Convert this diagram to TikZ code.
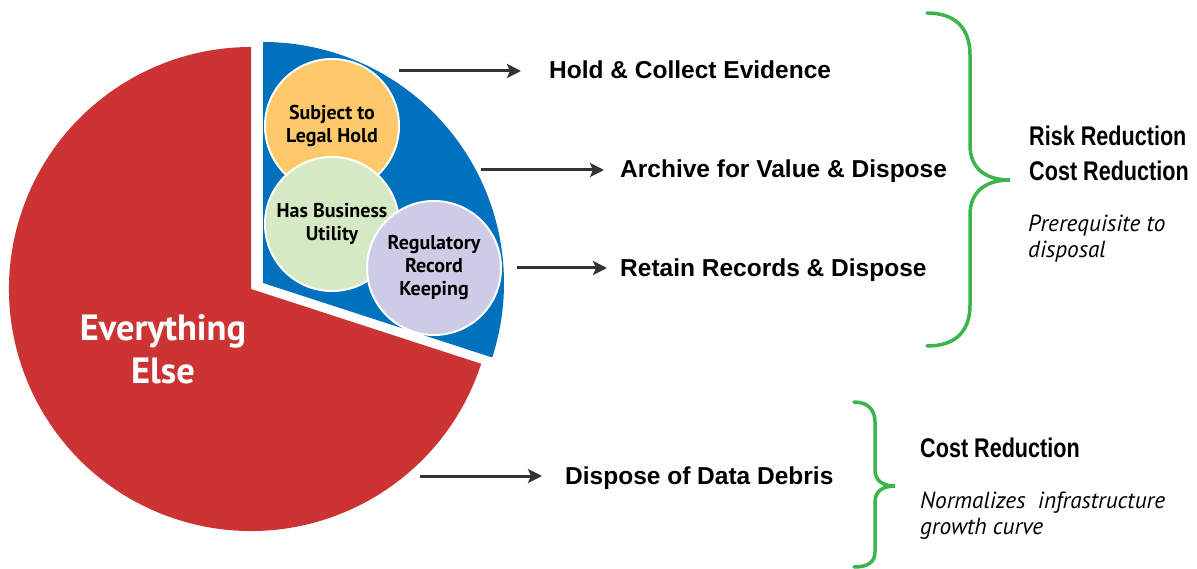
\documentclass[tikz,border=0pt]{standalone}
\usepackage{fontspec}
\setmainfont{Liberation Sans}
\newfontfamily\myriad{PT Sans}
\newfontfamily\condfont[FakeStretch=0.8]{Liberation Sans}
\usetikzlibrary{arrows.meta}
\definecolor{pred}{HTML}{CC3434}
\definecolor{pblue}{HTML}{0071BC}
\definecolor{porange}{HTML}{FDC96B}
\definecolor{pgreen}{HTML}{D5E9C5}
\definecolor{ppurple}{HTML}{CDCBE5}
\definecolor{bracegreen}{HTML}{3AB54A}
\definecolor{arrowgray}{HTML}{333333}
\tikzset{
  bubble/.style={circle, draw=white, line width=2pt, minimum size=134pt, inner sep=0pt,
    align=center, font=\myriad\bfseries\fontsize{20}{23}\selectfont},
  arr/.style={draw=arrowgray, line width=3pt, -{Stealth[length=14pt,width=14pt,inset=3pt]}},
  mainlabel/.style={anchor=base west, inner sep=0pt, font=\bfseries\fontsize{24.5}{28}\selectfont},
  condlabel/.style={anchor=base west, inner sep=0pt, font=\condfont\bfseries\fontsize{27}{32}\selectfont},
  notelabel/.style={anchor=base west, inner sep=0pt, font=\myriad\itshape\fontsize{23.3}{26}\selectfont},
  bracepath/.style={draw=bracegreen, line width=3.5pt, line cap=round}
}
\begin{document}
\begin{tikzpicture}[x=1pt,y=-1pt]
\useasboundingbox (0,0) rectangle (1197,569);
% pie
\fill[pred] (251,289) -- ++(18:242) arc[start angle=18, end angle=270, radius=242] -- cycle;
\fill[pblue] (263,283) -- ++(-90:241) arc[start angle=-90, end angle=18, radius=241] -- cycle;
\node[text=white, align=center, font=\myriad\bfseries\fontsize{36.5}{43}\selectfont] (else) at (163,349) {Everything\\Else};
% bubbles
\node[bubble, fill=porange] (legal) at (332,126) {Subject to\\Legal Hold};
\node[bubble, fill=pgreen] (util) at (332,224) {Has Business\\Utility};
\node[bubble, fill=ppurple] (reg) at (434,268) {Regulatory\\Record\\Keeping};
% labels
\node[mainlabel] (t1) at (549,79) {Hold \& Collect Evidence};
\node[mainlabel] (t2) at (620,178) {Archive for Value \& Dispose};
\node[mainlabel] (t3) at (620,277) {Retain Records \& Dispose};
\node[mainlabel] (t4) at (565,484) {Dispose of Data Debris};
% arrows
\coordinate (s1) at (399,71);  \coordinate (e1) at (521,71);
\coordinate (s2) at (481,170); \coordinate (e2) at (604,170);
\coordinate (s3) at (517,268); \coordinate (e3) at (607,268);
\coordinate (s4) at (420,476); \coordinate (e4) at (542,476);
\draw[arr] (s1) -- (e1);
\draw[arr] (s2) -- (e2);
\draw[arr] (s3) -- (e3);
\draw[arr] (s4) -- (e4);
% braces
\draw[bracepath] (927,13) .. controls (955,13) and (970,28) .. (970,55) -- (970,145)
  .. controls (970,168) and (985,180) .. (1010,180)
  .. controls (985,180) and (970,192) .. (970,215) -- (970,305)
  .. controls (970,332) and (955,346) .. (927,346);
\draw[bracepath] (854,402) .. controls (868,402) and (875,410) .. (875,422) -- (875,470)
  .. controls (875,480) and (882,486) .. (895,486)
  .. controls (882,486) and (875,492) .. (875,502) -- (875,552)
  .. controls (875,562) and (868,567) .. (854,567);
% right side notes
\node[condlabel] (r1) at (1029,146) {Risk Reduction};
\node[condlabel] (r2) at (1029,181) {Cost Reduction};
\node[notelabel] (n1a) at (1028,232) {Prerequisite to};
\node[notelabel] (n1b) at (1028,258) {disposal};
\node[condlabel] (r3) at (920,457) {Cost Reduction};
\node[notelabel] (n2a) at (920,508) {Normalizes~ infrastructure};
\node[notelabel] (n2b) at (920,534) {growth curve};
\end{tikzpicture}
\end{document}
